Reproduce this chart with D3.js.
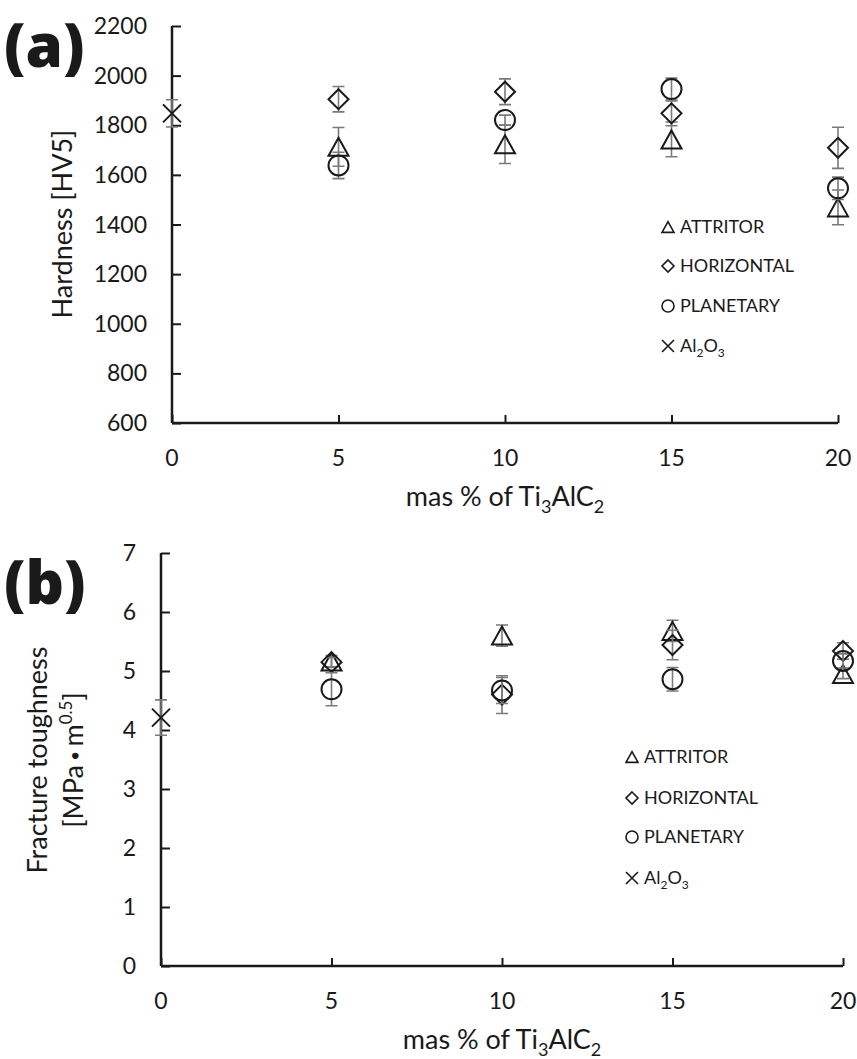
<!DOCTYPE html>
<html><head><meta charset="utf-8">
<script src="https://cdn.jsdelivr.net/npm/d3@7"></script>
<style>
html,body{margin:0;padding:0;background:#fff;}
text{font-family:Lato, "Open Sans", sans-serif;fill:#1a1a1a;}
text.letter{font-family:"Open Sans", sans-serif;font-weight:800;}
</style></head>
<body><svg id="chart" width="857" height="1059"></svg>
<script>
// ---------- data ----------
const xTicks = [0, 5, 10, 15, 20];
const hardnessTicks = [600, 800, 1000, 1200, 1400, 1600, 1800, 2000, 2200];
const toughnessTicks = [0, 1, 2, 3, 4, 5, 6, 7];
const seriesNames = ["ATTRITOR", "HORIZONTAL", "PLANETARY", "Al2O3"];
const massX = [5, 10, 15, 20];
const alX = [0];

const hardAttritor = [1713, 1723, 1743, 1469];
const hardAttritorErr = [78, 77, 70, 70];
const hardHorizontal = [1905, 1935, 1848, 1709];
const hardHorizontalErr = [51, 52, 50, 83];
const hardPlanetary = [1638, 1821, 1946, 1546];
const hardPlanetaryErr = [53, 20, 44, 45];
const hardAl2O3 = [1848];
const hardAl2O3Err = [55];

const toughAttritor = [5.16, 5.60, 5.68, 4.95];
const toughAttritorErr = [0.10, 0.18, 0.18, 0.08];
const toughHorizontal = [5.15, 4.60, 5.44, 5.34];
const toughHorizontalErr = [0.08, 0.32, 0.25, 0.14];
const toughPlanetary = [4.69, 4.67, 4.86, 5.17];
const toughPlanetaryErr = [0.28, 0.22, 0.20, 0.12];
const toughAl2O3 = [4.21];
const toughAl2O3Err = [0.30];

// ---------- helpers ----------
const svg = d3.select("#chart");
const INK = "#1a1a1a", ERR = "#7a7a7a";

function markerPath(shape, r) {
  const p = d3.path();
  if (shape === "tri") {
    const w = r, h = r * 0.9;
    p.moveTo(0, -h); p.lineTo(w, h); p.lineTo(-w, h); p.closePath();
  } else if (shape === "dia") {
    p.moveTo(0, -r); p.lineTo(r, 0); p.lineTo(0, r); p.lineTo(-r, 0); p.closePath();
  } else if (shape === "cir") {
    p.moveTo(r, 0); p.arc(0, 0, r, 0, 2 * Math.PI);
  } else {
    p.moveTo(-r, -r); p.lineTo(r, r); p.moveTo(r, -r); p.lineTo(-r, r);
  }
  return p.toString();
}

function drawPanel(cfg) {
  const g = svg.append("g");
  const x = d3.scaleLinear().domain([0, 20]).range(cfg.xRange);
  const y = d3.scaleLinear().domain(cfg.yDomain).range(cfg.yRange);

  // y axis
  const ya = d3.axisRight(y).tickValues(cfg.yTicks).tickSize(9).tickFormat("");
  const yg = g.append("g").attr("transform", `translate(${cfg.xRange[0]},0)`).call(ya);
  yg.select(".domain").attr("stroke", INK).attr("stroke-width", 2.5)
    .attr("d", `M0,${cfg.yRange[0]}V${cfg.yRange[1]}`);
  yg.selectAll(".tick line").attr("stroke", INK).attr("stroke-width", 2);
  g.selectAll(".ylab").data(cfg.yTicks).enter().append("text")
    .attr("x", cfg.xRange[0] - 25).attr("y", d => y(d)).attr("dy", "0.35em")
    .attr("text-anchor", "end").attr("font-size", 23).text(d => d);

  // x axis
  const xa = d3.axisTop(x).tickValues(xTicks).tickSize(8).tickFormat("");
  const xg = g.append("g").attr("transform", `translate(0,${cfg.yRange[0]})`).call(xa);
  xg.select(".domain").attr("stroke", INK).attr("stroke-width", 2.5)
    .attr("d", `M${cfg.xRange[0]},0H${cfg.xRange[1]}`);
  xg.selectAll(".tick line").attr("stroke", INK).attr("stroke-width", 2);
  g.selectAll(".xlab").data(xTicks).enter().append("text")
    .attr("x", d => x(d)).attr("y", cfg.yRange[0] + 35).attr("dy", "0.35em")
    .attr("text-anchor", "middle").attr("font-size", 23).text(d => d);

  // x title
  const xt = g.append("text").attr("x", (cfg.xRange[0] + cfg.xRange[1]) / 2)
    .attr("y", cfg.yRange[0] + 83).attr("text-anchor", "middle").attr("font-size", 27);
  xt.append("tspan").text("mas % of Ti");
  xt.append("tspan").attr("font-size", 18).attr("dy", 7).text("3");
  xt.append("tspan").attr("dy", -7).text("AlC");
  xt.append("tspan").attr("font-size", 18).attr("dy", 7).text("2");

  // panel letter
  g.append("text").attr("class", "letter").attr("x", 4).attr("y", cfg.letterY)
    .attr("font-size", 60).text(cfg.letter);

  // series
  cfg.series.forEach(s => {
    const pts = s.xs.map((xv, i) => ({ x: xv, v: s.vals[i], e: s.errs[i] }));
    const sg = g.append("g");
    sg.selectAll(".eb").data(pts).enter().append("path")
      .attr("fill", "none").attr("stroke", ERR).attr("stroke-width", 1.6)
      .attr("d", d => {
        const cx = x(d.x), y1 = y(d.v + d.e), y2 = y(d.v - d.e);
        return `M${cx},${y1}V${y2}M${cx - 6},${y1}H${cx + 6}M${cx - 6},${y2}H${cx + 6}`;
      });
    sg.selectAll(".mk").data(pts).enter().append("path")
      .attr("transform", d => `translate(${x(d.x)},${y(d.v)})`)
      .attr("d", markerPath(s.shape, s.r)).attr("fill", "none")
      .attr("stroke", INK).attr("stroke-width", 2);
  });

  // legend
  cfg.series.forEach((s, i) => {
    const ly = cfg.legendY[i];
    g.append("path").attr("transform", `translate(${cfg.legendX},${ly})`)
      .attr("d", markerPath(s.shape, 6)).attr("fill", "none")
      .attr("stroke", INK).attr("stroke-width", 1.6);
    const t = g.append("text").attr("x", cfg.legendX + 12).attr("y", ly).attr("dy", "0.35em")
      .attr("font-size", 18);
    if (s.name === "Al2O3") {
      t.append("tspan").text("Al");
      t.append("tspan").attr("font-size", 12).attr("dy", 5).text("2");
      t.append("tspan").attr("dy", -5).text("O");
      t.append("tspan").attr("font-size", 12).attr("dy", 5).text("3");
    } else t.text(s.name);
  });

  // y title
  cfg.yTitle(g);
}

drawPanel({
  letter: "(a)", letterY: 67,
  xRange: [172, 838], yDomain: [600, 2200], yRange: [423, 26], yTicks: hardnessTicks,
  legendX: 668, legendY: [227, 266, 306, 346],
  series: [
    { name: seriesNames[0], shape: "tri", r: 10, xs: massX, vals: hardAttritor, errs: hardAttritorErr },
    { name: seriesNames[1], shape: "dia", r: 10, xs: massX, vals: hardHorizontal, errs: hardHorizontalErr },
    { name: seriesNames[2], shape: "cir", r: 10, xs: massX, vals: hardPlanetary, errs: hardPlanetaryErr },
    { name: seriesNames[3], shape: "x", r: 9, xs: alX, vals: hardAl2O3, errs: hardAl2O3Err }
  ],
  yTitle: g => g.append("text").attr("transform", "translate(72,224) rotate(-90)")
    .attr("text-anchor", "middle").attr("font-size", 27).text("Hardness [HV5]")
});

drawPanel({
  letter: "(b)", letterY: 604,
  xRange: [161, 843], yDomain: [0, 7], yRange: [966, 553], yTicks: toughnessTicks,
  legendX: 632, legendY: [757, 798, 837, 878],
  series: [
    { name: seriesNames[0], shape: "tri", r: 10, xs: massX, vals: toughAttritor, errs: toughAttritorErr },
    { name: seriesNames[1], shape: "dia", r: 10, xs: massX, vals: toughHorizontal, errs: toughHorizontalErr },
    { name: seriesNames[2], shape: "cir", r: 10, xs: massX, vals: toughPlanetary, errs: toughPlanetaryErr },
    { name: seriesNames[3], shape: "x", r: 9, xs: alX, vals: toughAl2O3, errs: toughAl2O3Err }
  ],
  yTitle: g => {
    g.append("text").attr("transform", "translate(47,760) rotate(-90)")
      .attr("text-anchor", "middle").attr("font-size", 27).text("Fracture toughness");
    const t = g.append("text").attr("transform", "translate(83,760) rotate(-90)")
      .attr("text-anchor", "middle").attr("font-size", 27);
    t.append("tspan").text("[MPa");
    t.append("tspan").attr("font-size", 17).attr("dy", -2).text(" \u2022 ");
    t.append("tspan").attr("dy", 2).text("m");
    t.append("tspan").attr("font-size", 17).attr("dy", -11).text("0.5");
    t.append("tspan").attr("dy", 11).text("]");
  }
});
</script></body></html>
